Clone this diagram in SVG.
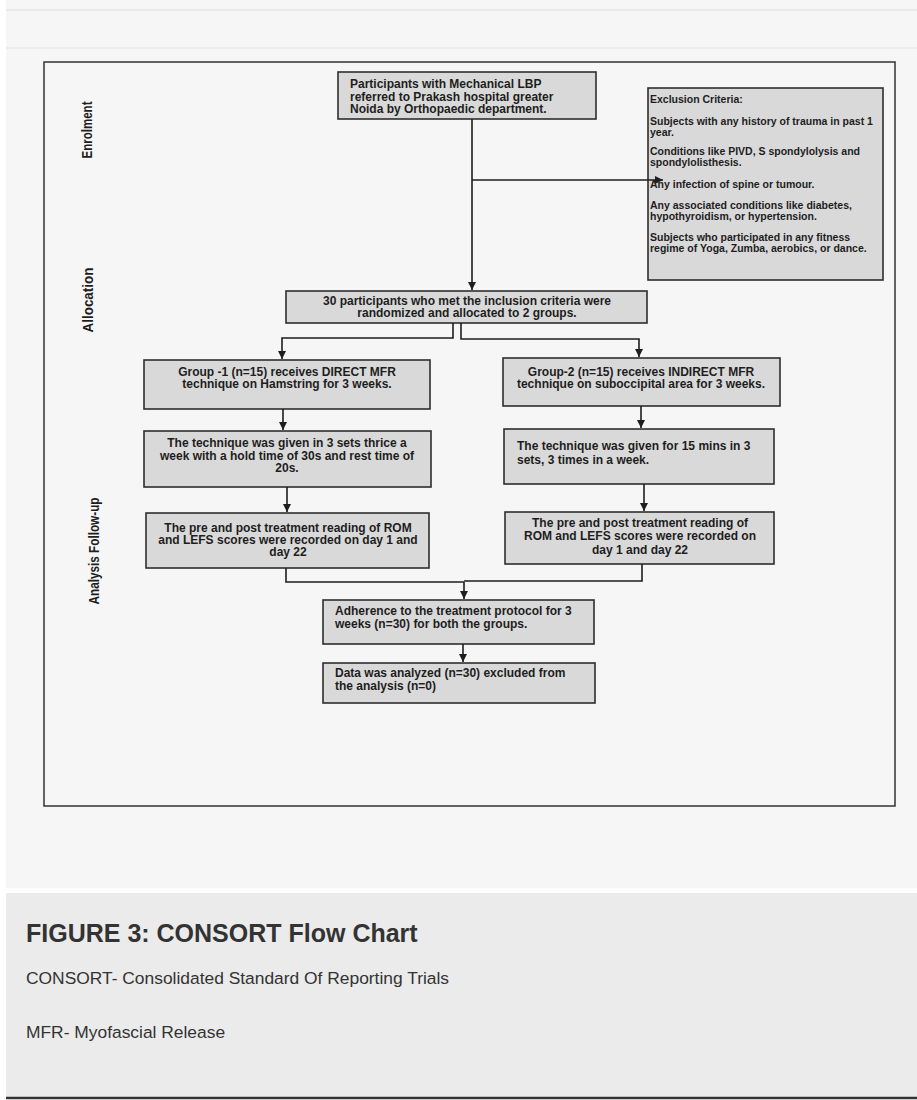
<svg xmlns="http://www.w3.org/2000/svg" width="917" height="1100" viewBox="0 0 917 1100">
<style>
.box{fill:#d9d9d9;stroke:#2e2e2e;stroke-width:1.6}
.t{font-family:"Liberation Sans",Arial,sans-serif;font-weight:bold;font-size:12px;fill:#1e1e1e}
.ts{font-family:"Liberation Sans",Arial,sans-serif;font-weight:bold;font-size:10.5px;fill:#1e1e1e}
.c{text-anchor:middle}
.lbl{font-family:"Liberation Sans Narrow","Liberation Sans",Arial,sans-serif;font-weight:bold;font-size:15px;fill:#1e1e1e;text-anchor:middle}
.ln{fill:none;stroke:#1e1e1e;stroke-width:1.6}
.cap{font-family:"Liberation Sans",Arial,sans-serif;fill:#333}
</style>
<defs>
<marker id="ah" viewBox="0 0 10 10" refX="10" refY="5" markerWidth="9" markerHeight="8" markerUnits="userSpaceOnUse" orient="auto">
<path d="M0,0 L10,5 L0,10 z" fill="#1e1e1e"/>
</marker>
</defs>
<rect x="0" y="0" width="917" height="1100" fill="#ffffff"/>
<rect x="6" y="0" width="911" height="888" fill="#f6f6f7"/>
<line x1="6" y1="10" x2="917" y2="10" stroke="#dedede" stroke-width="1"/>
<line x1="6" y1="48" x2="917" y2="48" stroke="#e2e2e2" stroke-width="1"/>
<rect x="44" y="62" width="851" height="744" fill="none" stroke="#333" stroke-width="1.5"/>

<g id="labels">
<text class="lbl" transform="translate(92,130) rotate(-90)" textLength="57" lengthAdjust="spacingAndGlyphs">Enrolment</text>
<text class="lbl" transform="translate(93,300) rotate(-90)" textLength="65" lengthAdjust="spacingAndGlyphs">Allocation</text>
<text class="lbl" transform="translate(99,551) rotate(-90)" textLength="107" lengthAdjust="spacingAndGlyphs">Analysis Follow-up</text>
</g>

<g id="n-enrol">
<rect class="box" x="338" y="72" width="258" height="47"/>
<text class="t" x="350" y="88">Participants with Mechanical LBP</text>
<text class="t" x="350" y="100.5">referred to Prakash hospital greater</text>
<text class="t" x="350" y="113">Noida by Orthopaedic department.</text>
</g>

<g id="n-exclusion">
<rect class="box" x="648" y="88" width="235" height="192" stroke-width="2"/>
<text class="ts" x="650" y="103">Exclusion Criteria:</text>
<text class="ts" x="650" y="125">Subjects with any history of trauma in past 1</text>
<text class="ts" x="650" y="136">year.</text>
<text class="ts" x="650" y="155">Conditions like PIVD, S spondylolysis and</text>
<text class="ts" x="650" y="166">spondylolisthesis.</text>
<text class="ts" x="650" y="188">Any infection of spine or tumour.</text>
<text class="ts" x="650" y="209">Any associated conditions like diabetes,</text>
<text class="ts" x="650" y="220">hypothyroidism, or hypertension.</text>
<text class="ts" x="650" y="241">Subjects who participated in any fitness</text>
<text class="ts" x="650" y="252">regime of Yoga, Zumba, aerobics, or dance.</text>
</g>

<g id="n-alloc">
<rect class="box" x="286" y="291" width="361" height="32"/>
<text class="t c" x="467" y="305">30 participants who met the inclusion criteria were</text>
<text class="t c" x="467" y="317">randomized and allocated to 2 groups.</text>
</g>

<g id="n-g1">
<rect class="box" x="144" y="360" width="286" height="49"/>
<text class="t c" x="287" y="376">Group -1 (n=15) receives DIRECT MFR</text>
<text class="t c" x="287" y="388">technique on Hamstring for 3 weeks.</text>
</g>

<g id="n-g2">
<rect class="box" x="503" y="358" width="277" height="48"/>
<text class="t c" x="641" y="376">Group-2 (n=15) receives INDIRECT MFR</text>
<text class="t c" x="641" y="388">technique on suboccipital area for 3 weeks.</text>
</g>

<g id="n-l3">
<rect class="box" x="144" y="431" width="287" height="56"/>
<text class="t c" x="287" y="447">The technique was given in 3 sets thrice a</text>
<text class="t c" x="287" y="459.5">week with a hold time of 30s and rest time of</text>
<text class="t c" x="287" y="472">20s.</text>
</g>

<g id="n-r3">
<rect class="box" x="504" y="429" width="270" height="55"/>
<text class="t" x="517" y="450">The technique was given for 15 mins in 3</text>
<text class="t" x="517" y="464">sets, 3 times in a week.</text>
</g>

<g id="n-l4">
<rect class="box" x="146" y="513" width="283" height="55"/>
<text class="t c" x="288" y="532">The pre and post treatment reading of ROM</text>
<text class="t c" x="288" y="544">and LEFS scores were recorded on day 1 and</text>
<text class="t c" x="288" y="556">day 22</text>
</g>

<g id="n-r4">
<rect class="box" x="505" y="512" width="269" height="52"/>
<text class="t c" x="640" y="527">The pre and post treatment reading of</text>
<text class="t c" x="640" y="540">ROM and LEFS scores were recorded on</text>
<text class="t c" x="640" y="554">day 1 and day 22</text>
</g>

<g id="n-adherence">
<rect class="box" x="323" y="600" width="271" height="44"/>
<text class="t" x="335" y="615">Adherence to the treatment protocol for 3</text>
<text class="t" x="335" y="628">weeks (n=30) for both the groups.</text>
</g>

<g id="n-analysis">
<rect class="box" x="323" y="663" width="272" height="40"/>
<text class="t" x="335" y="677">Data was analyzed (n=30) excluded from</text>
<text class="t" x="335" y="690">the analysis (n=0)</text>
</g>

<g id="connectors">
<path class="ln" d="M472,119 V290" marker-end="url(#ah)"/>
<path class="ln" d="M472,180 H663" stroke-width="1.2" marker-end="url(#ah)"/>
<path class="ln" d="M453,323 V338 H282 V359" marker-end="url(#ah)"/>
<path class="ln" d="M461,323 V339 H639 V357" marker-end="url(#ah)"/>
<path class="ln" d="M283,409 V430" marker-end="url(#ah)"/>
<path class="ln" d="M641,406 V428" marker-end="url(#ah)"/>
<path class="ln" d="M287,487 V512" marker-end="url(#ah)"/>
<path class="ln" d="M644,484 V511" marker-end="url(#ah)"/>
<path class="ln" d="M286,568 V582 H464" stroke-width="1.2"/>
<path class="ln" d="M642,564 V581 H464" stroke-width="1.2"/>
<path class="ln" d="M464,582 V599" marker-end="url(#ah)"/>
<path class="ln" d="M463,644 V662" marker-end="url(#ah)"/>
</g>

<g id="caption">
<rect x="6" y="893" width="911" height="204" fill="#ebebeb"/>
<line x1="6" y1="1098" x2="917" y2="1098" stroke="#333" stroke-width="2.5"/>
<text class="cap" x="26" y="942" font-size="25" font-weight="bold" fill="#222">FIGURE 3: CONSORT Flow Chart</text>
<text class="cap" x="26" y="984" font-size="17.4">CONSORT- Consolidated Standard Of Reporting Trials</text>
<text class="cap" x="26" y="1038" font-size="17.4">MFR- Myofascial Release</text>
</g>
</svg>
